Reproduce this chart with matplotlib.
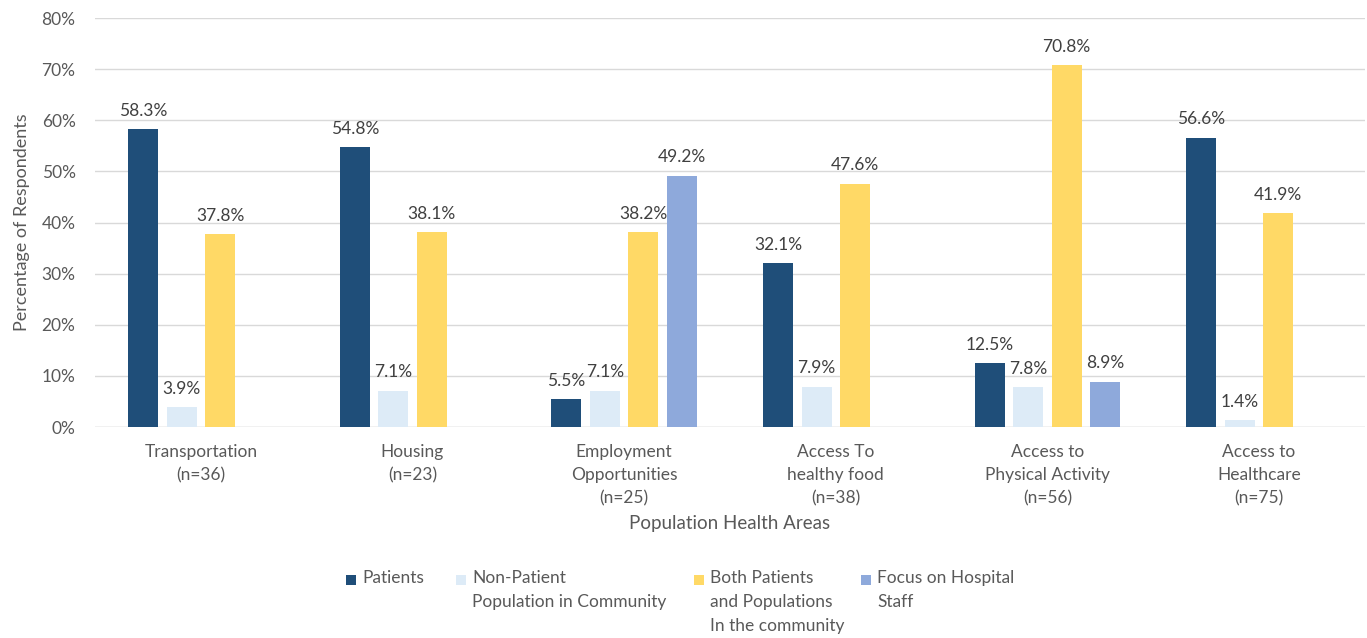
import matplotlib.pyplot as plt
from matplotlib.patches import Rectangle
import numpy as np

categories = ["Transportation\n(n=36)", "Housing\n(n=23)", "Employment\nOpportunities\n(n=25)",
              "Access To\nhealthy food\n(n=38)", "Access to\nPhysical Activity\n(n=56)",
              "Access to\nHealthcare\n(n=75)"]
series_names = ["Patients", "Non-Patient\nPopulation in Community",
                "Both Patients\nand Populations\nIn the community", "Focus on Hospital\nStaff"]
patients = [58.3, 54.8, 5.5, 32.1, 12.5, 56.6]
non_patient = [3.9, 7.1, 7.1, 7.9, 7.8, 1.4]
both = [37.8, 38.1, 38.2, 47.6, 70.8, 41.9]
staff = [np.nan, np.nan, 49.2, np.nan, 8.9, np.nan]

colors = ["#1F4E79", "#DDEBF7", "#FFD966", "#8EA9DB"]
grey = "#595959"

plt.rcParams['font.family'] = ['Lato', 'DejaVu Sans']

W, H = 1367, 638
fig = plt.figure(figsize=(W / 100, H / 100), dpi=100)
ax = fig.add_axes([0.0695, 0.3307, 0.929, 0.641])

x = np.arange(len(categories))
width = 0.142
step = 0.182
all_series = [patients, non_patient, both, staff]
for i, vals in enumerate(all_series):
    pos = x + (i - 1.5) * step
    ax.bar(pos, vals, width, color=colors[i], zorder=3)
    for xp, v in zip(pos, vals):
        if np.isnan(v):
            continue
        ax.text(xp, v + 2.0, f"{v:.1f}%", ha='center', va='bottom', fontsize=12.5, color='#404040')

ax.set_xlim(-0.5, 5.5)
ax.set_ylim(0, 80)
ax.set_yticks(range(0, 81, 10))
ax.set_yticklabels([f"{t}%" for t in range(0, 81, 10)], fontsize=12.5, color=grey)
ax.set_xticks(x)
ax.set_xticklabels(categories, fontsize=12.5, color=grey, linespacing=1.55)
ax.tick_params(length=0, pad=14)
ax.tick_params(axis='x', pad=12)
ax.grid(axis='y', color='#D9D9D9', linewidth=1, zorder=0)
for s in ax.spines.values():
    s.set_visible(False)
ax.axhline(0, color='#D9D9D9', linewidth=1, zorder=2)

ax.set_ylabel("Percentage of Respondents", fontsize=13, color=grey, labelpad=8)
ax.set_xlabel("Population Health Areas", fontsize=13.5, color=grey, labelpad=6)

# legend drawn by hand so multi-line labels are left aligned with the swatch on the first line
leg_x = [351, 461, 699, 866]
leg_y = 580
for lx, name, c in zip(leg_x, series_names, colors):
    fig.patches.append(Rectangle(((lx - 5) / W, 1 - (leg_y + 5) / H), 10 / W, 10 / H,
                                 transform=fig.transFigure, facecolor=c, edgecolor='none'))
    fig.text((lx + 11) / W, 1 - (leg_y - 10) / H, name, ha='left', va='top', fontsize=12.5,
             color=grey, linespacing=1.6)

fig.savefig("out.png", dpi=100)
